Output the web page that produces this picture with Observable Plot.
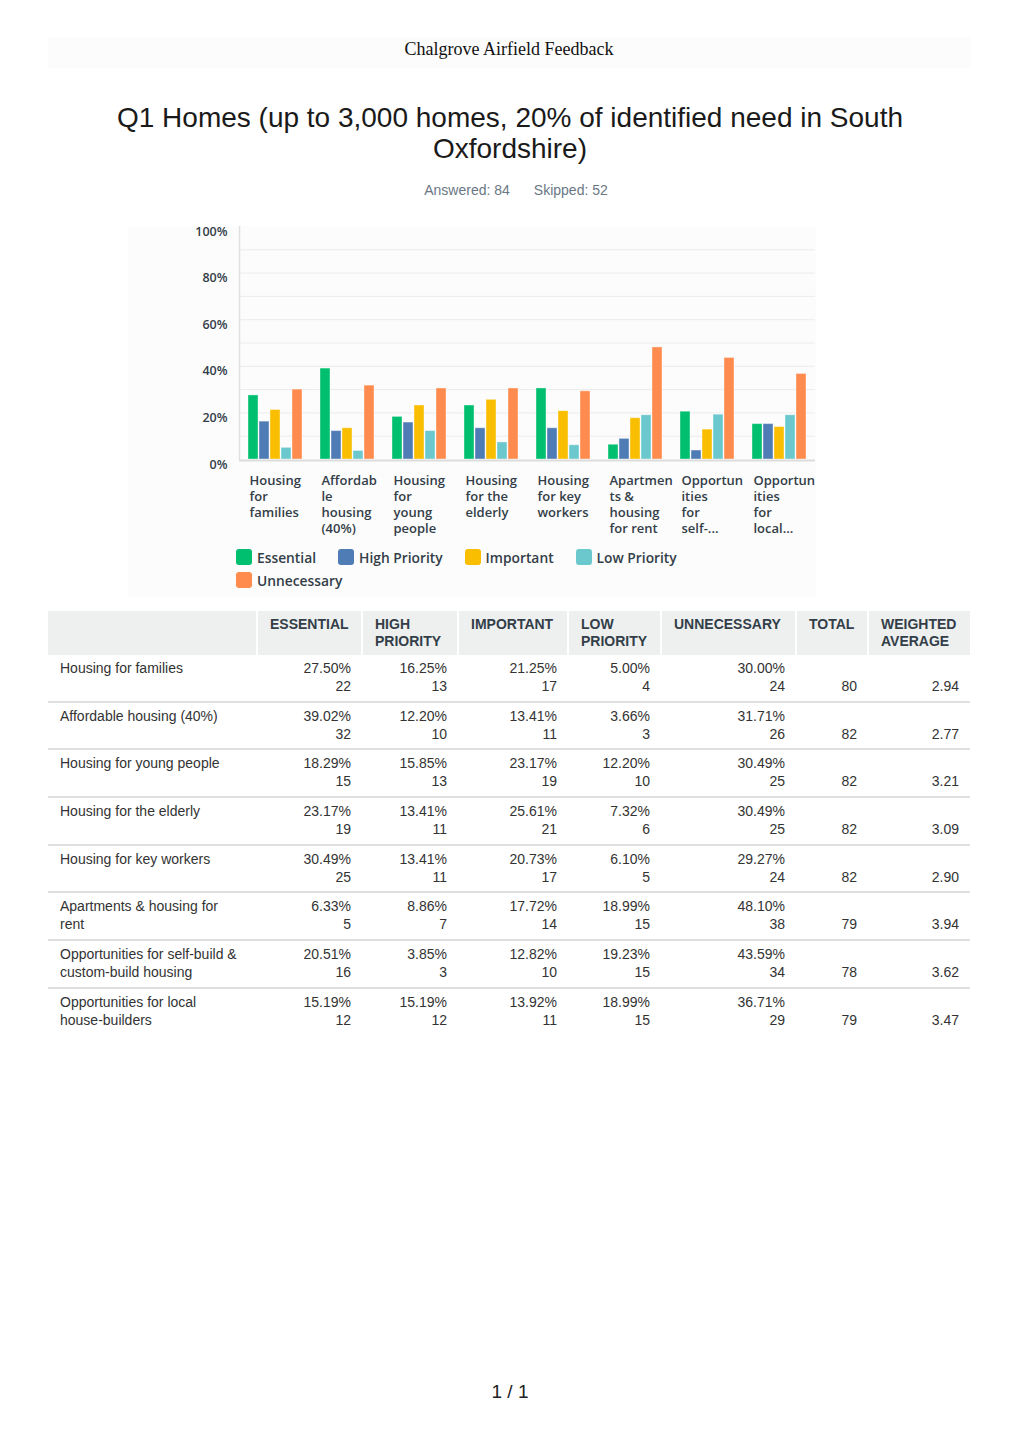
<!DOCTYPE html>
<html>
<head>
<meta charset="utf-8">
<script src="https://cdn.jsdelivr.net/npm/d3@7"></script>
<script src="https://cdn.jsdelivr.net/npm/@observablehq/plot@0.6"></script>
<style>
  html, body { margin: 0; padding: 0; background: #ffffff; }
  body { width: 1020px; height: 1443px; position: relative; overflow: hidden; }
  .band { position: absolute; left: 48px; top: 37px; width: 922px; height: 31px; background: #fcfcfc;
          font-family: "Liberation Serif", "Times New Roman", serif; font-size: 18px; color: #111;
          text-align: center; line-height: 24px; }
  .title { position: absolute; left: 0; top: 102px; width: 1020px; box-sizing: border-box; padding: 0 100px;
           text-align: center; font-family: "Liberation Sans", Arial, sans-serif; font-size: 28px; line-height: 31px; color: #1a1a1a; }
  .answered { position: absolute; left: 0; top: 181px; width: 1020px; display: flex; justify-content: center; gap: 24px;
              box-sizing: border-box; padding-left: 12px;
              font-family: "Liberation Sans", Arial, sans-serif; font-size: 14px; color: #6a7785; line-height: 18px; }
  .chartbg { position: absolute; left: 128px; top: 226px; width: 688px; height: 372px; background: #fcfcfc; }
  #chart { position: absolute; left: 128px; top: 220px; width: 688px; }
  .legend { position: absolute; left: 236px; top: 548px; width: 540px; display: flex; flex-wrap: wrap; column-gap: 22px; row-gap: 5px;
            font-family: "Open Sans", "Noto Sans", sans-serif; font-weight: 600; font-size: 13.8px; color: #333e48; }
  .legend .item { display: flex; align-items: center; height: 18px; }
  .legend .sw { width: 16px; height: 16px; border-radius: 3px; margin-right: 5px; }
  table { position: absolute; left: 48px; top: 611px; width: 922px; border-collapse: collapse; table-layout: fixed;
          font-family: "Liberation Sans", Arial, sans-serif; font-size: 14px; color: #333; }
  th { background: #eef0f0; border-right: 2px solid #ffffff; text-align: left; vertical-align: top;
       padding: 5px 10px 5px 12px; line-height: 17px; font-weight: bold; color: #333e48; height: 34px; }
  th:last-child { border-right: none; }
  td { vertical-align: top; padding: 4px 11px 5.7px 12px; line-height: 18px; text-align: right; }
  td.lab { text-align: left; white-space: pre-line; }
  td.bot { vertical-align: bottom; }
  tbody tr { border-bottom: 2px solid #e0e0e0; }
  tbody tr:last-child { border-bottom: none; }
  .page { position: absolute; left: 0; top: 1380px; width: 1020px; text-align: center;
          font-family: "Liberation Sans", Arial, sans-serif; font-size: 19px; color: #222; line-height: 24px; }
</style>
</head>
<body>
<div class="band">Chalgrove Airfield Feedback</div>
<div class="title">Q1 Homes (up to 3,000 homes, 20% of identified need in South Oxfordshire)</div>
<div class="answered"><span>Answered: 84</span><span>Skipped: 52</span></div>
<div class="chartbg"></div>
<div id="chart"></div>
<div class="legend" id="legend"></div>
<table id="tbl"></table>
<div class="page">1 / 1</div>
<script>
// ---- data ----
const categories = [
  "Housing for families",
  "Affordable housing (40%)",
  "Housing for young people",
  "Housing for the elderly",
  "Housing for key workers",
  "Apartments & housing for rent",
  "Opportunities for self-build & custom-build housing",
  "Opportunities for local house-builders"
];
const tickLabels = [
  "Housing\nfor\nfamilies",
  "Affordab\nle\nhousing\n(40%)",
  "Housing\nfor\nyoung\npeople",
  "Housing\nfor the\nelderly",
  "Housing\nfor key\nworkers",
  "Apartmen\nts &\nhousing\nfor rent",
  "Opportun\nities\nfor\nself-...",
  "Opportun\nities\nfor\nlocal..."
];
const tableLabels = [
  "Housing for families",
  "Affordable housing (40%)",
  "Housing for young people",
  "Housing for the elderly",
  "Housing for key workers",
  "Apartments & housing for\nrent",
  "Opportunities for self-build &\ncustom-build housing",
  "Opportunities for local\nhouse-builders"
];
const series = ["Essential", "High Priority", "Important", "Low Priority", "Unnecessary"];
const seriesHeaders = ["ESSENTIAL", "HIGH PRIORITY", "IMPORTANT", "LOW PRIORITY", "UNNECESSARY"];
const seriesColors = ["#00bf6f", "#507cb6", "#f9be00", "#6bc8cd", "#ff8b4f"];

const essential    = [27.50, 39.02, 18.29, 23.17, 30.49,  6.33, 20.51, 15.19];
const highPriority = [16.25, 12.20, 15.85, 13.41, 13.41,  8.86,  3.85, 15.19];
const important    = [21.25, 13.41, 23.17, 25.61, 20.73, 17.72, 12.82, 13.92];
const lowPriority  = [ 5.00,  3.66, 12.20,  7.32,  6.10, 18.99, 19.23, 18.99];
const unnecessary  = [30.00, 31.71, 30.49, 30.49, 29.27, 48.10, 43.59, 36.71];

const essentialN    = [22, 32, 15, 19, 25,  5, 16, 12];
const highPriorityN = [13, 10, 13, 11, 11,  7,  3, 12];
const importantN    = [17, 11, 19, 21, 17, 14, 10, 11];
const lowPriorityN  = [ 4,  3, 10,  6,  5, 15, 15, 15];
const unnecessaryN  = [24, 26, 25, 25, 24, 38, 34, 29];
const totals   = [80, 82, 82, 82, 82, 79, 78, 79];
const weighted = [2.94, 2.77, 3.21, 3.09, 2.90, 3.94, 3.62, 3.47];

const yTicks = [0, 20, 40, 60, 80, 100];
const gridValues = [10, 20, 30, 40, 50, 60, 70, 80, 90];

// ---- derived tables ----
const pctSeries = [essential, highPriority, important, lowPriority, unnecessary];
const cntSeries = [essentialN, highPriorityN, importantN, lowPriorityN, unnecessaryN];
const rows = categories.flatMap((c, i) => series.map((s, j) => ({cat: c, series: s, value: pctSeries[j][i]})));
const tickRows = categories.map((c, i) => ({cat: c, label: tickLabels[i]}));

const ink = "#333e48";
const chart = Plot.plot({
  width: 688,
  height: 320,
  marginLeft: 109,
  marginRight: 0,
  marginTop: 6,
  marginBottom: 81,
  style: {fontFamily: "'Open Sans', 'Noto Sans', sans-serif", background: "transparent", overflow: "visible"},
  fx: {domain: categories, axis: null, padding: 0, label: null},
  x: {domain: series, axis: null, paddingInner: 0.08, paddingOuter: 0.6},
  y: {domain: [0, 100], axis: null, label: null},
  color: {domain: series, range: seriesColors},
  marks: [
    Plot.ruleY(gridValues, {stroke: "#ececec", strokeWidth: 1}),
    Plot.barY(rows, {fx: "cat", x: "series", y: "value", fill: "series", stroke: "#ffffff", strokeOpacity: 0.4, strokeWidth: 1}),
    Plot.ruleY([0], {stroke: "#dcdcdc", strokeWidth: 2, dy: 1}),
    Plot.frame({anchor: "left", facetAnchor: "left", stroke: "#e0e0e0", strokeWidth: 1.5}),
    Plot.axisY(yTicks, {label: null, tickSize: 0, tickPadding: 12, tickFormat: d => d + "%", fontSize: 12.5, fontWeight: 600, fill: ink, dy: 5}),
    Plot.text(tickRows, {fx: "cat", text: "label", frameAnchor: "bottom-left", textAnchor: "start", lineAnchor: "top",
      dx: 10, dy: 14, lineHeight: 1.23, fontSize: 13, fontWeight: 600, fill: ink})
  ]
});
document.getElementById("chart").appendChild(chart);

// ---- legend ----
const legend = document.getElementById("legend");
series.forEach((s, j) => {
  const it = document.createElement("div");
  it.className = "item";
  const sw = document.createElement("span");
  sw.className = "sw";
  sw.style.background = seriesColors[j];
  const tx = document.createElement("span");
  tx.textContent = s;
  it.appendChild(sw); it.appendChild(tx);
  legend.appendChild(it);
});

// ---- table ----
const colWidths = [209, 105, 96, 110, 93, 135, 72, 102];
const tbl = document.getElementById("tbl");
const cg = document.createElement("colgroup");
colWidths.forEach(w => { const c = document.createElement("col"); c.style.width = w + "px"; cg.appendChild(c); });
tbl.appendChild(cg);
const thead = document.createElement("thead");
const hr = document.createElement("tr");
["", ...seriesHeaders, "TOTAL", "WEIGHTED AVERAGE"].forEach(h => {
  const th = document.createElement("th"); th.textContent = h; hr.appendChild(th);
});
thead.appendChild(hr); tbl.appendChild(thead);
const tbody = document.createElement("tbody");
categories.forEach((c, i) => {
  const tr = document.createElement("tr");
  const l = document.createElement("td"); l.className = "lab"; l.textContent = tableLabels[i]; tr.appendChild(l);
  series.forEach((s, j) => {
    const td = document.createElement("td");
    td.innerHTML = pctSeries[j][i].toFixed(2) + "%<br>" + cntSeries[j][i];
    tr.appendChild(td);
  });
  const t = document.createElement("td"); t.className = "bot"; t.textContent = totals[i]; tr.appendChild(t);
  const w = document.createElement("td"); w.className = "bot"; w.textContent = weighted[i].toFixed(2); tr.appendChild(w);
  tbody.appendChild(tr);
});
tbl.appendChild(tbody);
</script>
</body>
</html>
